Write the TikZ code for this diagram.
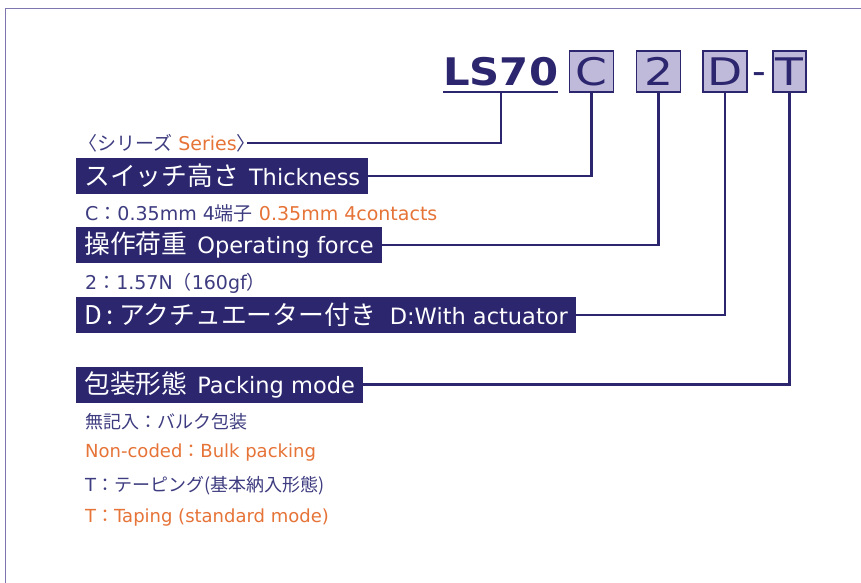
\documentclass[tikz,border=0pt]{standalone}
\usepackage{fontspec}
\setmainfont{DejaVu Sans}
\newfontfamily\jpfont{Noto Sans CJK JP}
\newfontfamily\codefont[FakeStretch=1.2]{DejaVu Sans}
\newfontfamily\modelfont[FakeStretch=1.1]{DejaVu Sans Bold}
\usetikzlibrary{positioning}
\definecolor{navy}{RGB}{43,38,110}
\definecolor{notecol}{RGB}{62,60,128}
\definecolor{lilac}{RGB}{192,186,218}
\definecolor{orng}{RGB}{230,115,55}
\definecolor{framecol}{RGB}{125,118,175}
\newcommand\jp[1]{{\jpfont #1}}
\newcommand\jpbig[1]{{\jpfont\fontsize{25.8}{26}\selectfont #1}\hspace{10pt}}
\newcommand\orng[1]{\textcolor{orng}{#1}}

\tikzset{
  headbox/.style={fill=navy, text=white, anchor=west, inner xsep=8pt, inner ysep=0pt,
    minimum height=36pt, font=\fontsize{22.5}{26}\selectfont},
  codebox/.style={draw=navy, line width=1.2pt, fill=lilac, text=navy, inner sep=0pt,
    minimum width=44pt, minimum height=41pt, font=\codefont\fontsize{38}{40}\selectfont},
  note/.style={anchor=west, inner sep=0pt, text=notecol, font=\fontsize{19}{22}\selectfont},
  packnote/.style={note, font=\fontsize{18}{21}\selectfont},
  lead/.style={navy, line width=2.2pt},
}

\begin{document}
\begin{tikzpicture}[x=1pt, y=-1pt]
  \clip (0,0) rectangle (861,582);
  \fill[white] (0,0) rectangle (861,582);
  \draw[framecol, line width=1.2pt] (5.5,600) -- (5.5,8.5) -- (880,8.5);

  \node[anchor=base west, inner xsep=0pt, inner ysep=6pt, text=navy,
        font=\modelfont\fontsize{38}{40}\selectfont] (ls) at (443,85) {LS70};
  \draw[navy, line width=2pt] (ls.south west) -- (ls.south east);
  \node[codebox] (cC) at (591.5,71.5) {C};
  \node[codebox] (c2) at (658.5,71.5) {2};
  \node[codebox] (cD) at (725,71.5) {D};
  \node[anchor=base, inner sep=0pt, text=navy, font=\fontsize{38}{40}\selectfont] (dash) at (759,84) {-};
  \node[codebox, minimum width=33pt] (cT) at (789.5,71.5) {T};

  \node[note] (series) at (78,143) {\jp{〈シリーズ} \orng{Series}\jp{〉}\kern-9pt};
  \node[headbox] (thick) at (76,176) {\jpbig{スイッチ高さ}Thickness};
  \node[note] (thicknote) at (85,213) {C\jp{：}0.35mm 4\jp{端子} \orng{0.35mm 4contacts}};
  \node[headbox] (force) at (76,245) {\jpbig{操作荷重}Operating force};
  \node[note] (forcenote) at (85,283) {2\jp{：}1.57N\jp{（}160gf\jp{）}};
  \node[headbox] (act) at (76,315) {\jpbig{D\hspace{5pt}:\hspace{5pt}アクチュエーター付き}\hspace{4pt}D:With actuator};
  \node[headbox] (pack) at (76,384.5) {\jpbig{包装形態}Packing mode};
  \node[packnote] (bulkjp) at (85,422) {\jp{無記入：バルク包装}};
  \node[packnote, text=orng] (bulken) at (85,453) {Non-coded\jp{：}Bulk packing};
  \node[packnote] (tapejp) at (85,486) {T\jp{：テーピング(基本納入形態)}};
  \node[packnote, text=orng] (tapeen) at (85,518) {T\jp{：}Taping (standard mode)};

  \draw[lead] (ls.south) |- (series.east);
  \draw[lead] (cC.south) |- (thick.east);
  \draw[lead] (c2.south) |- (force.east);
  \draw[lead] (cD.south) |- (act.east);
  \draw[lead] (cT.south) |- (pack.east);
\end{tikzpicture}
\end{document}
